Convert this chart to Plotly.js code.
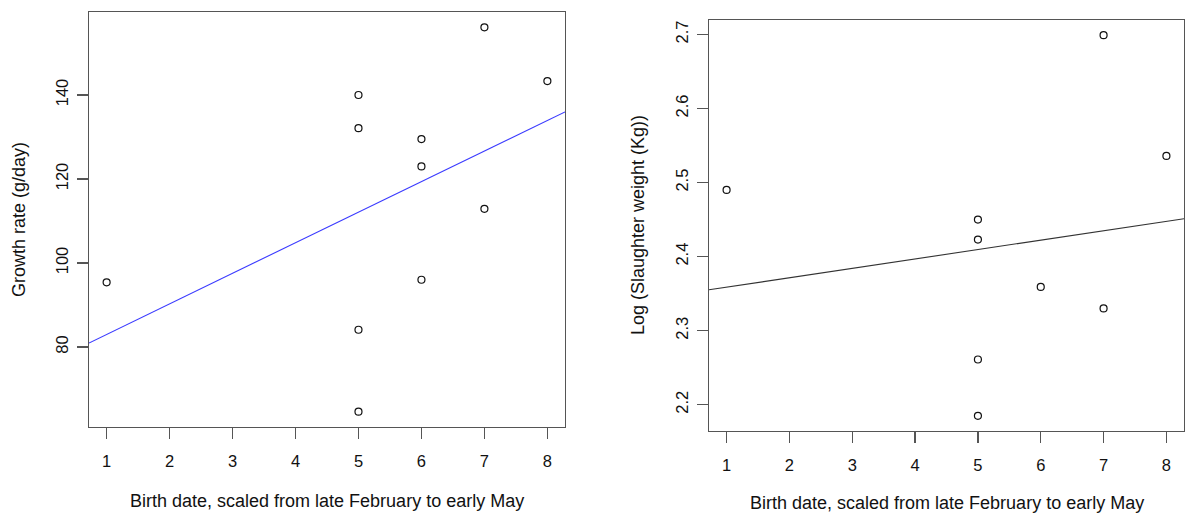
<!DOCTYPE html>
<html>
<head>
<meta charset="utf-8">
<script src="https://cdn.plot.ly/plotly-3.0.1.min.js"></script>
<style>
html,body{margin:0;padding:0;background:#fff;}
#chart{width:1186px;height:515px;}
</style>
</head>
<body>
<div id="chart"></div>
<script>
// Left panel: growth rate vs birth date
const birthDateA = [1, 5, 5, 5, 5, 6, 6, 6, 7, 7, 8];
const growthRate = [95.4, 140, 132.1, 84.1, 64.6, 129.5, 123.0, 96.0, 156.1, 112.9, 143.3];
// Right panel: log slaughter weight vs birth date
const birthDateB = [1, 5, 5, 5, 5, 6, 7, 7, 8];
const logWeight = [2.490, 2.450, 2.423, 2.261, 2.185, 2.359, 2.699, 2.330, 2.536];
// Fitted lines (abline of lm)
const fitA = {intercept: 75.7, slope: 7.28};
const fitB = {intercept: 2.346, slope: 0.0127};
const xTicks = [1, 2, 3, 4, 5, 6, 7, 8];
const yTicksA = [80, 100, 120, 140];
const yTicksB = [2.2, 2.3, 2.4, 2.5, 2.6, 2.7];
const xTitle = "Birth date, scaled from late February to early May";
const yTitleA = "Growth rate (g/day)";
const yTitleB = "Log (Slaughter weight (Kg))";

function rRange(arr) {
  const mn = Math.min(...arr), mx = Math.max(...arr);
  const d = (mx - mn) * 0.04;
  return [mn - d, mx + d];
}
const xrA = rRange(birthDateA), xrB = rRange(birthDateB);
const yrA = rRange(growthRate), yrB = rRange(logWeight);

const FONT = "Liberation Sans, Arial, sans-serif";
const boxColor = "#555555";

const traces = [
  {x: birthDateA, y: growthRate, type: "scatter", mode: "markers", xaxis: "x", yaxis: "y",
   marker: {symbol: "circle-open", size: 7, color: "#111", line: {width: 1.2, color: "#111"}}},
  {x: xrA, y: xrA.map(v => fitA.intercept + fitA.slope * v), type: "scatter", mode: "lines",
   xaxis: "x", yaxis: "y", line: {color: "#3b3bff", width: 1.1}},
  {x: birthDateB, y: logWeight, type: "scatter", mode: "markers", xaxis: "x2", yaxis: "y2",
   marker: {symbol: "circle-open", size: 7, color: "#111", line: {width: 1.2, color: "#111"}}},
  {x: xrB, y: xrB.map(v => fitB.intercept + fitB.slope * v), type: "scatter", mode: "lines",
   xaxis: "x2", yaxis: "y2", line: {color: "#333333", width: 1.1}}
];

function xAxis(domain, anchor, range) {
  return {domain: domain, anchor: anchor, range: range, tickmode: "array", tickvals: xTicks,
    ticks: "outside", ticklen: 11, tickwidth: 1.2, tickcolor: boxColor,
    showline: true, mirror: true, linecolor: boxColor, linewidth: 1.2,
    showgrid: false, zeroline: false, ticklabelstandoff: 8,
    tickfont: {family: FONT, size: 16.5, color: "#111"}};
}
function yAxis(domain, anchor, range, vals) {
  return {domain: domain, anchor: anchor, range: range, tickmode: "array", tickvals: vals,
    ticktext: vals.map(v => String(v)),
    ticks: "outside", ticklen: 11, tickwidth: 1.2, tickcolor: boxColor,
    showline: true, mirror: true, linecolor: boxColor, linewidth: 1.2,
    showgrid: false, zeroline: false, tickangle: -90, ticklabelstandoff: 2,
    tickfont: {family: FONT, size: 16.5, color: "#111"}};
}

const W = 1186, H = 515;
const layout = {
  width: W, height: H,
  margin: {l: 0, r: 0, t: 0, b: 0},
  paper_bgcolor: "#fff", plot_bgcolor: "#fff",
  showlegend: false,
  xaxis: xAxis([89 / W, 565 / W], "y", xrA),
  yaxis: yAxis([1 - 427 / H, 1 - 12 / H], "x", yrA, yTicksA),
  xaxis2: xAxis([709 / W, 1184 / W], "y2", xrB),
  yaxis2: yAxis([1 - 431 / H, 1 - 20 / H], "x2", yrB, yTicksB),
  annotations: [
    {text: xTitle, xref: "paper", yref: "paper", x: 327 / W, y: 1 - 501 / H, xanchor: "center", yanchor: "middle",
     showarrow: false, font: {family: FONT, size: 18, color: "#111"}},
    {text: xTitle, xref: "paper", yref: "paper", x: 947 / W, y: 1 - 503 / H, xanchor: "center", yanchor: "middle",
     showarrow: false, font: {family: FONT, size: 18, color: "#111"}},
    {text: yTitleA, xref: "paper", yref: "paper", x: 19 / W, y: 1 - 220 / H, xanchor: "center", yanchor: "middle",
     textangle: -90, showarrow: false, font: {family: FONT, size: 18, color: "#111"}},
    {text: yTitleB, xref: "paper", yref: "paper", x: 638 / W, y: 1 - 225 / H, xanchor: "center", yanchor: "middle",
     textangle: -90, showarrow: false, font: {family: FONT, size: 18, color: "#111"}}
  ]
};

Plotly.newPlot("chart", traces, layout, {displayModeBar: false, staticPlot: true});
</script>
</body>
</html>
